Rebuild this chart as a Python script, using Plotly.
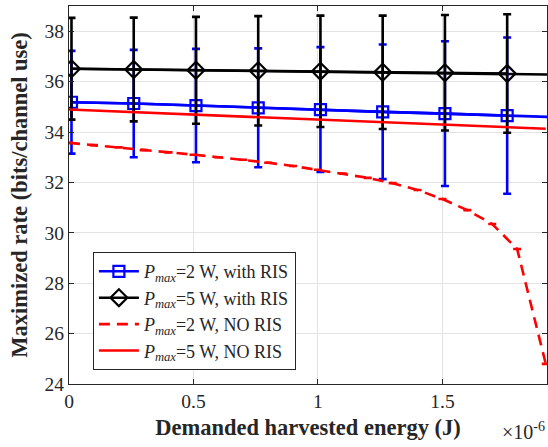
import plotly.graph_objects as go

# ---- data (x in joules) ----
x_mk = [0.01e-6, 0.26e-6, 0.51e-6, 0.76e-6, 1.01e-6, 1.26e-6, 1.51e-6, 1.76e-6]
x_end = 1.92e-6

black_mean = [36.51, 36.48, 36.45, 36.43, 36.41, 36.37, 36.35, 36.32]
black_end = 36.28
black_err = [2.02, 2.06, 2.12, 2.17, 2.21, 2.25, 2.29, 2.35]

blue_mean = [35.18, 35.13, 35.05, 34.96, 34.89, 34.80, 34.73, 34.65]
blue_end = 34.60
blue_err = [2.04, 2.13, 2.25, 2.36, 2.48, 2.67, 2.87, 3.10]

x_red = [0.0, 0.1e-6, 0.2e-6, 0.3e-6, 0.4e-6, 0.5e-6, 0.6e-6, 0.7e-6, 0.8e-6, 0.9e-6,
         1.0e-6, 1.1e-6, 1.2e-6, 1.3e-6, 1.4e-6, 1.5e-6, 1.6e-6, 1.7e-6, 1.8e-6, 1.915e-6]
red2_noris = [33.57, 33.48, 33.39, 33.28, 33.19, 33.10, 33.00, 32.90, 32.78, 32.65,
              32.50, 32.35, 32.18, 31.97, 31.70, 31.34, 30.90, 30.35, 29.36, 24.80]
red5_noris = [34.89, 34.85, 34.81, 34.77, 34.73, 34.69, 34.65, 34.61, 34.57, 34.53,
              34.49, 34.45, 34.41, 34.37, 34.33, 34.29, 34.25, 34.21, 34.17, 34.13]
red_err = [0.0] * len(x_red)

xtick_vals = [0, 0.5e-6, 1.0e-6, 1.5e-6]
xtick_text = ["0", "0.5", "1", "1.5"]
ytick_vals = [24, 26, 28, 30, 32, 34, 36, 38]

labels = [
    "<i>P</i><sub><i>max</i></sub>=2 W, with RIS",
    "<i>P</i><sub><i>max</i></sub>=5 W, with RIS",
    "<i>P</i><sub><i>max</i></sub>=2 W, NO RIS",
    "<i>P</i><sub><i>max</i></sub>=5 W, NO RIS",
]

BLUE = "#0000ff"
BLACK = "#000000"
RED = "#ff0000"
FONT = "Liberation Serif"
TXT = "#262626"
LW = 2.6

fig = go.Figure()

# line continuations to the axis edge
fig.add_trace(go.Scatter(x=x_mk + [x_end], y=blue_mean + [blue_end], mode="lines",
                         line=dict(color=BLUE, width=LW), showlegend=False, hoverinfo="skip"))
fig.add_trace(go.Scatter(x=x_mk + [x_end], y=black_mean + [black_end], mode="lines",
                         line=dict(color=BLACK, width=LW), showlegend=False, hoverinfo="skip"))

fig.add_trace(go.Scatter(
    x=x_mk, y=blue_mean, mode="lines+markers", name=labels[0],
    line=dict(color=BLUE, width=LW),
    marker=dict(symbol="square-open", size=11, color=BLUE, line=dict(width=2.2, color=BLUE)),
    error_y=dict(type="data", array=blue_err, visible=True, color=BLUE, thickness=LW, width=4),
))
fig.add_trace(go.Scatter(
    x=x_mk, y=black_mean, mode="lines+markers", name=labels[1],
    line=dict(color=BLACK, width=LW),
    marker=dict(symbol="diamond-open", size=13, color=BLACK, line=dict(width=2.2, color=BLACK)),
    error_y=dict(type="data", array=black_err, visible=True, color=BLACK, thickness=LW, width=4),
))
fig.add_trace(go.Scatter(
    x=x_red, y=red2_noris, mode="lines", name=labels[2],
    line=dict(color=RED, width=LW, dash="11px,7px"),
    error_y=dict(type="data", array=red_err, visible=True, color=RED, thickness=LW, width=4),
))
fig.add_trace(go.Scatter(
    x=x_red, y=red5_noris, mode="lines", name=labels[3],
    line=dict(color=RED, width=LW),
    error_y=dict(type="data", array=red_err, visible=True, color=RED, thickness=LW, width=0),
))

axis_common = dict(
    showline=True, linecolor=TXT, linewidth=1, mirror="allticks",
    ticks="inside", ticklen=5, tickcolor=TXT, tickwidth=1,
    showgrid=True, gridcolor="#e3e3e3", gridwidth=1, zeroline=False,
    tickfont=dict(family=FONT, size=19.5, color=TXT),
)

fig.update_layout(
    width=548, height=447,
    margin=dict(l=69, r=1, t=6, b=63),
    paper_bgcolor="white", plot_bgcolor="white",
    font=dict(family=FONT, color=TXT),
    xaxis=dict(range=[0, x_end], tickvals=xtick_vals, ticktext=xtick_text,
               title=dict(text="<b>Demanded harvested energy (J)</b>",
                          font=dict(family=FONT, size=22.5, color=TXT), standoff=7),
               **axis_common),
    yaxis=dict(range=[24, 39], tickvals=ytick_vals,
               title=dict(text="<b>Maximized rate (bits/channel use)</b>",
                          font=dict(family=FONT, size=22.5, color=TXT), standoff=10),
               **axis_common),
    legend=dict(x=0.05, y=0.349, xanchor="left", yanchor="top",
                bgcolor="white", bordercolor=TXT, borderwidth=1,
                font=dict(family=FONT, size=18, color=TXT),
                tracegroupgap=0, itemwidth=40),
    showlegend=True,
)

fig.add_annotation(x=1.0, y=-0.162, xref="paper", yref="paper", xanchor="right", yanchor="bottom",
                   text="×10<sup>-6</sup>", showarrow=False,
                   font=dict(family=FONT, size=20, color=TXT))

fig.write_html("out.html")
